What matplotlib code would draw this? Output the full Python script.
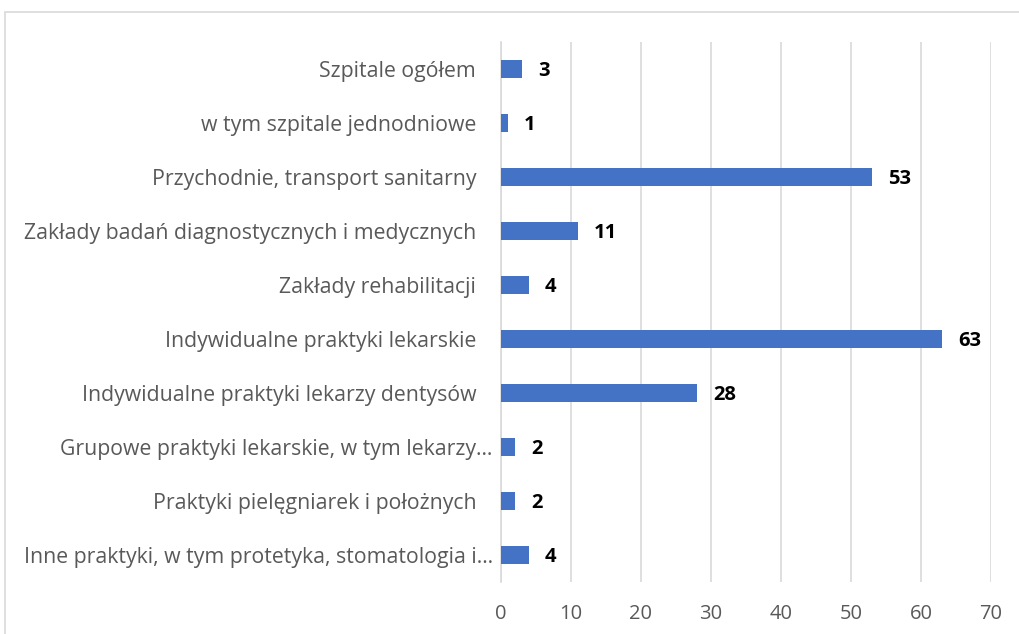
import matplotlib.pyplot as plt
from matplotlib.patches import Rectangle

# dane
categories = [
    "Szpitale ogółem",
    "w tym szpitale jednodniowe",
    "Przychodnie, transport sanitarny",
    "Zakłady badań diagnostycznych i medycznych",
    "Zakłady rehabilitacji",
    "Indywidualne praktyki lekarskie",
    "Indywidualne praktyki lekarzy dentysów",
    "Grupowe praktyki lekarskie, w tym lekarzy…",
    "Praktyki pielęgniarek i położnych",
    "Inne praktyki, w tym protetyka, stomatologia i…",
]
values = [3, 1, 53, 11, 4, 63, 28, 2, 2, 4]
x_ticks = [0, 10, 20, 30, 40, 50, 60, 70]

W, H = 1019, 634
fig = plt.figure(figsize=(W / 100, H / 100), dpi=100)
plt.rcParams['font.family'] = ['Open Sans', 'DejaVu Sans']

# ramka wykresu (ucieta z prawej i z dolu)
fig.patches.append(Rectangle((5 / W, -0.1), 1.2, 1 - 12 / H + 0.1,
                             transform=fig.transFigure, fill=False,
                             edgecolor='#d9d9d9', linewidth=1.2))

ax = fig.add_axes([501 / W, 1 - 582 / H, (991 - 501) / W, (582 - 42) / H])

y = list(range(len(categories)))
ax.barh(y, values, height=0.33, color='#4472c4', zorder=3)

for yi, v in zip(y, values):
    ax.text(v + 2.3, yi + 0.03, str(v), va='center', ha='left', fontsize=14.5,
            fontweight='bold', color='black')

# Excel zostawia wiekszy odstep przy nieucietych etykietach
labels = [c if c.endswith('…') else c + '   ' for c in categories]

ax.set_ylim(len(categories) - 0.5, -0.5)
ax.set_xlim(0, 70)
ax.set_xticks(x_ticks)
ax.set_yticks(y)
ax.set_yticklabels(labels, fontsize=15.3, color='#595959')
ax.tick_params(axis='x', labelsize=14.5, labelcolor='#595959', length=0, pad=16)
ax.tick_params(axis='y', length=0, pad=6)

ax.grid(axis='x', color='#d9d9d9', linewidth=1.2, zorder=0)
for s in ['top', 'right', 'bottom']:
    ax.spines[s].set_visible(False)
ax.spines['left'].set_color('#d9d9d9')
ax.spines['left'].set_linewidth(1.2)

fig.savefig('out.png', dpi=100)
